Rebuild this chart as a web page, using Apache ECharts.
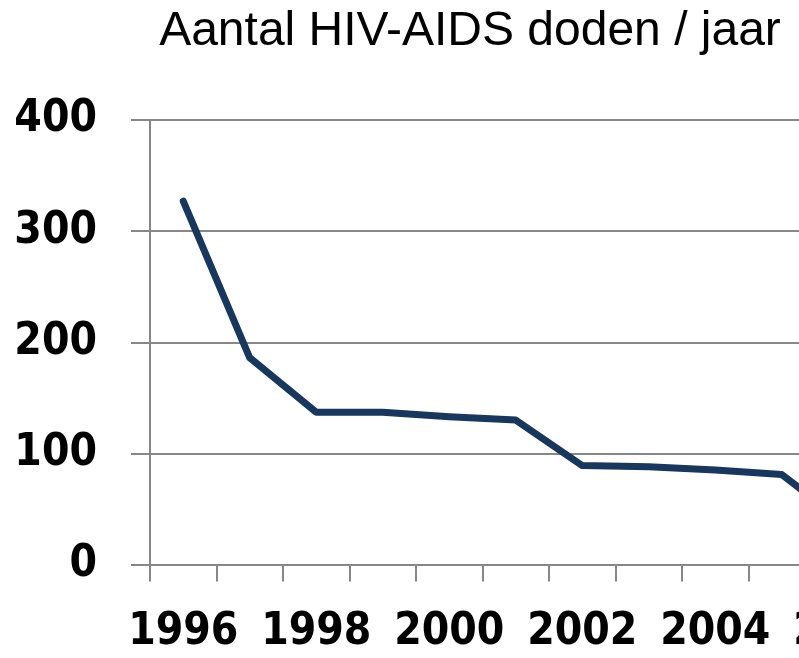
<!DOCTYPE html>
<html>
<head>
<meta charset="utf-8">
<script src="https://cdn.jsdelivr.net/npm/echarts@6/dist/echarts.min.js"></script>
<style>
  html, body { margin: 0; padding: 0; background: #fff; }
  #main { width: 799px; height: 658px; }
</style>
</head>
<body>
<div id="main"></div>
<script>
var chartDom = document.getElementById('main');
var myChart = echarts.init(chartDom);
var option;

// jaren en aantal doden
var years = ['1996', '1997', '1998', '1999', '2000', '2001', '2002', '2003', '2004', '2005', '2006'];
var deaths = [327, 186, 137, 137, 133, 130, 89, 88, 85, 81, 35];
var yTicks = [0, 100, 200, 300, 400];

var grey = '#878787';
var labelFont = "'DejaVu Sans Condensed', 'DejaVu Sans', sans-serif";

option = {
    backgroundColor: '#fff',
    animation: false,
    title: {
        text: 'Aantal HIV-AIDS doden / jaar',
        left: 465,
        top: 3,
        textAlign: 'center',
        textStyle: {
            fontFamily: 'Liberation Sans',
            fontWeight: 'normal',
            fontSize: 48,
            color: '#000'
        }
    },
    grid: {
        left: 150,
        top: 120,
        width: 731.5,
        height: 444.5,
        containLabel: false,
        outerBoundsMode: 'none'
    },
    xAxis: {
        type: 'category',
        data: years,
        boundaryGap: true,
        axisLine: { lineStyle: { color: grey, width: 2 } },
        axisTick: { show: true, interval: 0, length: 17, lineStyle: { color: grey, width: 2 } },
        axisLabel: {
            interval: 1,
            margin: 46,
            color: '#000',
            fontFamily: labelFont,
            fontWeight: 'bold',
            fontSize: 44
        }
    },
    yAxis: {
        type: 'value',
        min: yTicks[0],
        max: yTicks[yTicks.length - 1],
        interval: 100,
        axisLine: { show: true, lineStyle: { color: grey, width: 2 } },
        axisTick: { show: true, length: 19, lineStyle: { color: grey, width: 2 } },
        splitLine: { lineStyle: { color: grey, width: 2 } },
        axisLabel: {
            margin: 53,
            color: '#000',
            fontFamily: labelFont,
            fontWeight: 'bold',
            fontSize: 44
        }
    },
    series: [{
        name: 'doden',
        type: 'line',
        data: deaths,
        symbol: 'none',
        lineStyle: { color: '#17375E', width: 7, cap: 'round', join: 'round' }
    }]
};

option && myChart.setOption(option);
</script>
</body>
</html>
